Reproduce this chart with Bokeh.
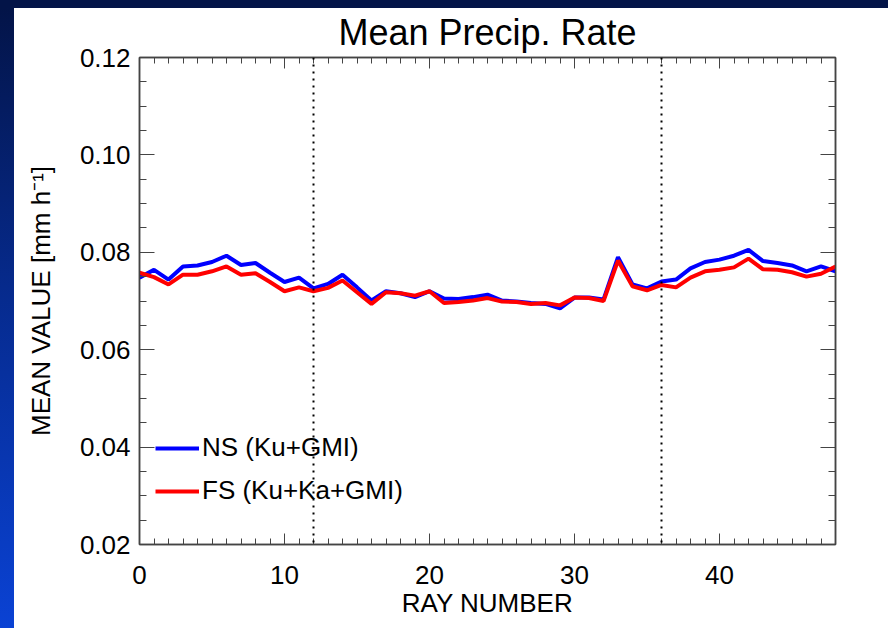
from bokeh.plotting import figure
from bokeh.layouts import column, row
from bokeh.models import (Range1d, LinearAxis, SingleIntervalTicker, PrintfTickFormatter,
                          Span, Legend, LegendItem, Div, CustomLabelingPolicy)
from bokeh.embed import file_html
from bokeh.resources import INLINE

# ---- data ----
ray = list(range(49))
ns_ku_gmi = [0.0748, 0.0764, 0.0744, 0.0771, 0.0773, 0.0780, 0.0793, 0.0774, 0.0778, 0.0758,
             0.0739, 0.0748, 0.0726, 0.0735, 0.0754, 0.0728, 0.0701, 0.0720, 0.0716, 0.0708,
             0.0720, 0.0705, 0.0704, 0.0708, 0.0713, 0.0701, 0.0699, 0.0696, 0.0694, 0.0685,
             0.0707, 0.0707, 0.0703, 0.0790, 0.0734, 0.0726, 0.0740, 0.0744, 0.0767, 0.0780,
             0.0785, 0.0793, 0.0805, 0.0782, 0.0778, 0.0773, 0.0761, 0.0771, 0.0761]
fs_ku_ka_gmi = [0.0758, 0.0749, 0.0734, 0.0754, 0.0754, 0.0761, 0.0771, 0.0754, 0.0757, 0.0739,
                0.0720, 0.0728, 0.0720, 0.0727, 0.0742, 0.0718, 0.0694, 0.0718, 0.0716, 0.0711,
                0.0720, 0.0696, 0.0698, 0.0701, 0.0706, 0.0699, 0.0698, 0.0694, 0.0696, 0.0691,
                0.0707, 0.0706, 0.0700, 0.0783, 0.0730, 0.0722, 0.0733, 0.0728, 0.0748, 0.0761,
                0.0764, 0.0769, 0.0787, 0.0765, 0.0764, 0.0759, 0.0750, 0.0756, 0.0771]
series_labels = ["NS (Ku+GMI)", "FS (Ku+Ka+GMI)"]
swath_edges = [12, 36]

FONT = "Liberation Sans"
AX = "#444444"

p = figure(frame_width=696, frame_height=487,
           min_border_left=125, min_border_right=53, min_border_top=49, min_border_bottom=84,
           x_range=Range1d(0, 48), y_range=Range1d(0.02, 0.12),
           output_backend="svg", toolbar_location=None,
           background_fill_color="white", border_fill_color="white",
           outline_line_color=AX, outline_line_width=1.5)
p.grid.visible = False

p.title.text = "Mean Precip. Rate"
p.title.text_font = FONT
p.title.text_font_size = "36px"
p.title.text_font_style = "normal"
p.title.text_color = "black"
p.title.align = "center"
p.title.standoff = 1


def style_axis(ax, major_len, minor_len, show_labels):
    ax.axis_line_color = AX
    ax.axis_line_width = 1.5
    ax.major_tick_line_color = AX
    ax.minor_tick_line_color = AX
    ax.major_tick_in = major_len
    ax.major_tick_out = 0
    ax.minor_tick_in = minor_len
    ax.minor_tick_out = 0
    ax.major_label_text_font = FONT
    ax.major_label_text_color = "black"
    ax.axis_label_text_font = FONT
    ax.axis_label_text_font_style = "normal"
    ax.axis_label_text_color = "black"
    if show_labels:
        ax.major_label_text_font_size = "26px"
        ax.axis_label_text_font_size = "26px"
    else:
        ax.major_label_text_font_size = "1px"
        ax.major_label_standoff = 0
        ax.major_label_policy = CustomLabelingPolicy(
            code="for (const i of Array.from(indices)) { indices.unset(i) }; return indices")


p.xaxis.ticker = SingleIntervalTicker(interval=10, num_minor_ticks=10)
p.yaxis.ticker = SingleIntervalTicker(interval=0.02, num_minor_ticks=4)
p.xaxis.formatter = PrintfTickFormatter(format="%d")
p.yaxis.formatter = PrintfTickFormatter(format="%.2f")
p.xaxis.axis_label = "RAY NUMBER"
p.yaxis.axis_label = "MEAN VALUE [mm h\u207b\u00b9]"
style_axis(p.xaxis[0], 11, 6, True)
style_axis(p.yaxis[0], 15, 7, True)
p.xaxis.major_label_standoff = 21
p.xaxis.axis_label_standoff = 1
p.yaxis.major_label_standoff = 9
p.yaxis.axis_label_standoff = 21

top = LinearAxis(ticker=SingleIntervalTicker(interval=10, num_minor_ticks=10))
right = LinearAxis(ticker=SingleIntervalTicker(interval=0.02, num_minor_ticks=4))
style_axis(top, 11, 6, False)
style_axis(right, 15, 7, False)
p.add_layout(top, "above")
p.add_layout(right, "right")

for edge in swath_edges:
    p.add_layout(Span(location=edge, dimension="height", line_color="black",
                      line_width=2, line_dash="2 5"))

r_ns = p.line(ray, ns_ku_gmi, line_color="#0000ff", line_width=4)
r_fs = p.line(ray, fs_ku_ka_gmi, line_color="#ff0000", line_width=4)

legend = Legend(items=[LegendItem(label=series_labels[0], renderers=[r_ns]),
                       LegendItem(label=series_labels[1], renderers=[r_fs])],
                location=(16, 38), padding=0, margin=0, spacing=12,
                glyph_width=44, glyph_height=30, label_height=30, label_standoff=3,
                label_text_font=FONT, label_text_font_size="26px", label_text_color="black",
                background_fill_alpha=0, border_line_alpha=0)
p.add_layout(legend, "center")

# slide background: dark top bar and blue gradient strip on the left
top_bar = Div(text="", width=888, height=8, margin=0,
              styles={"background": "#031448"})
left_strip = Div(text="", width=14, height=620, margin=0,
                 styles={"background": "linear-gradient(to bottom, #031448, #062a8c 45%, #0a42d4)"})

layout = column(top_bar, row(left_strip, p, spacing=0), spacing=0)

open("out.html", "w").write(file_html(layout, INLINE))
